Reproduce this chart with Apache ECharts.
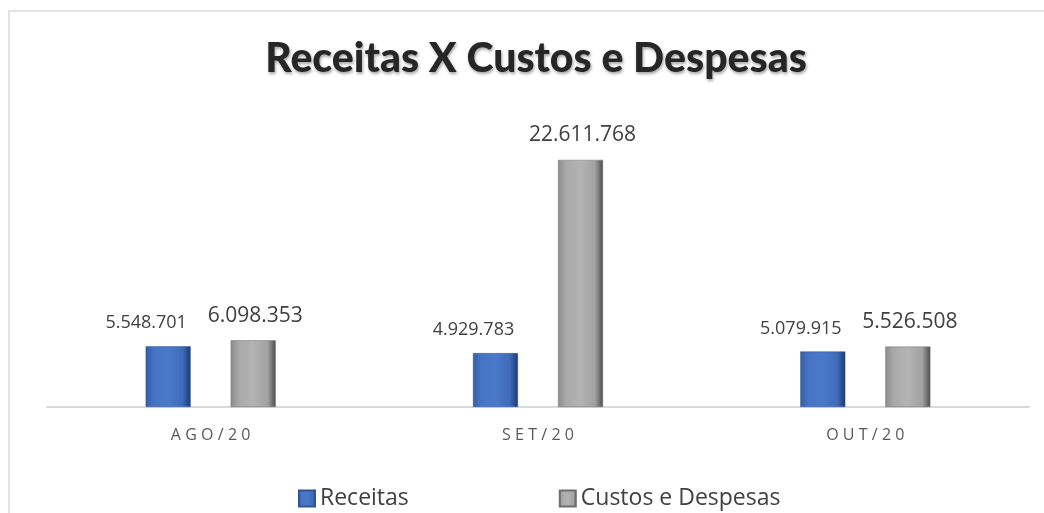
<!DOCTYPE html>
<html>
<head>
<meta charset="utf-8">
<script src="https://cdn.jsdelivr.net/npm/echarts@6/dist/echarts.min.js"></script>
<style>
  html, body { margin: 0; padding: 0; background: #fff; }
  #grafico { width: 1044px; height: 513px; }
</style>
</head>
<body>
<div id="grafico"></div>
<script>
const meses = ['AGO/20', 'SET/20', 'OUT/20'];
const receitas = [5548701, 4929783, 5079915];
const custosDespesas = [6098353, 22611768, 5526508];

function formatarNumero(v) {
    return String(v).replace(/\B(?=(\d{3})+(?!\d))/g, '.');
}

const corReceitas = new echarts.graphic.LinearGradient(0, 0, 1, 0, [
    { offset: 0, color: '#355da6' },
    { offset: 0.18, color: '#4674c4' },
    { offset: 0.5, color: '#4a79ca' },
    { offset: 0.82, color: '#3f6bba' },
    { offset: 1, color: '#1d396d' }
]);
const corCustos = new echarts.graphic.LinearGradient(0, 0, 1, 0, [
    { offset: 0, color: '#8c8c8c' },
    { offset: 0.18, color: '#a9a9a9' },
    { offset: 0.5, color: '#b3b3b3' },
    { offset: 0.82, color: '#a2a2a2' },
    { offset: 1, color: '#4d4d4d' }
]);

const grafico = echarts.init(document.getElementById('grafico'));

grafico.setOption({
    animation: false,
    backgroundColor: '#ffffff',
    title: {
        text: 'Receitas X Custos e Despesas',
        left: 531,
        textAlign: 'center',
        top: 33,
        textStyle: {
            fontFamily: 'Lato',
            fontWeight: 900,
            fontSize: 41,
            color: '#262626',
            textShadowColor: 'rgba(0,0,0,0.35)',
            textShadowBlur: 3,
            textShadowOffsetX: 1,
            textShadowOffsetY: 2
        }
    },
    graphic: [{
        type: 'rect',
        shape: { x: 9, y: 11, width: 1100, height: 600 },
        style: { fill: 'none', stroke: '#d9d9d9', lineWidth: 1.5 },
        silent: true
    }],
    legend: {
        left: 293,
        top: 482,
        itemWidth: 16,
        itemHeight: 16,
        itemGap: 150,
        icon: 'rect',
        textStyle: { fontFamily: 'Open Sans', fontSize: 23, color: '#404040', padding: [0, 0, 0, 0] },
        data: ['Receitas', 'Custos e Despesas']
    },
    grid: { left: 47, right: 15, top: 101, bottom: 106 },
    xAxis: {
        type: 'category',
        data: meses,
        axisLine: { lineStyle: { color: '#d9d9d9', width: 2 } },
        axisTick: { show: false },
        axisLabel: {
            margin: 20,
            fontFamily: 'Open Sans',
            fontSize: 16,
            color: '#595959',
            formatter: v => v.split('').join('\u2009\u200a')
        }
    },
    yAxis: {
        type: 'value',
        min: 0,
        max: 28000000,
        show: false,
        splitLine: { show: false }
    },
    series: [
        {
            name: 'Receitas',
            type: 'bar',
            data: receitas,
            barWidth: 45,
            barGap: '89%',
            itemStyle: { color: corReceitas, borderColor: '#2f5597', borderWidth: 0.5 },
            label: {
                show: true,
                position: 'top',
                distance: 14,
                offset: [-22, 0],
                fontFamily: 'Open Sans',
                fontSize: 18,
                color: '#404040',
                formatter: p => formatarNumero(p.value)
            }
        },
        {
            name: 'Custos e Despesas',
            type: 'bar',
            data: custosDespesas,
            barWidth: 45,
            itemStyle: { color: corCustos, borderColor: '#6e6e6e', borderWidth: 0.5 },
            label: {
                show: true,
                position: 'top',
                distance: 14,
                offset: [2, 0],
                fontFamily: 'Open Sans',
                fontSize: 21,
                color: '#404040',
                formatter: p => formatarNumero(p.value)
            }
        }
    ]
});
</script>
</body>
</html>
